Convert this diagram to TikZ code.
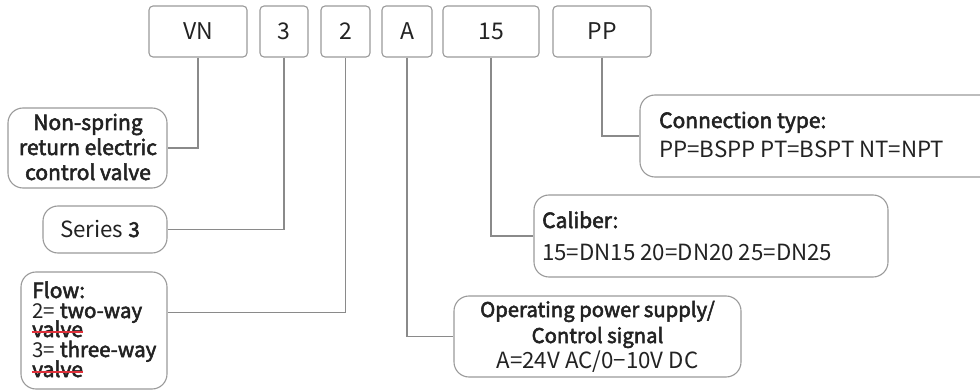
\documentclass[tikz,border=0pt]{standalone}
\usepackage{fontspec}
\setmainfont{Noto Sans CJK SC}
\newfontfamily\medfont[FakeBold=2.6]{Noto Sans CJK SC}
\usetikzlibrary{calc}
\definecolor{edge}{HTML}{9A9A9A}
\definecolor{wire}{HTML}{8A8A8A}
\definecolor{ink}{HTML}{222222}
\definecolor{squig}{HTML}{E0303A}
\tikzset{
  codebox/.style={draw=edge, line width=1.1pt, rounded corners=4pt, inner sep=0pt, text=ink, font=\fontsize{23}{24}\selectfont},
  labbox/.style={draw=edge, line width=1.1pt, rounded corners=15pt, inner sep=0pt},
  txt/.style={inner sep=0pt, text=ink, font=\fontsize{22.3}{23}\selectfont},
  hd/.style={inner sep=0pt, text=ink, font=\fontsize{21}{22}\selectfont\medfont},
  hdop/.style={hd, font=\fontsize{20.3}{21}\selectfont\medfont},
  wireline/.style={draw=wire, line width=1.3pt},
}
\newcommand{\hb}[1]{{\fontsize{20.5}{21}\selectfont\medfont #1}}
\begin{document}
\begin{tikzpicture}[x=1pt,y=-1pt]
\useasboundingbox (0,0) rectangle (980,390);
\clip (0,0) rectangle (980,390);
% code boxes
\node[codebox, minimum width=98pt, minimum height=51pt] (vn) at (198,31.5) {VN};
\node[codebox, minimum width=48pt, minimum height=51pt] (three) at (284,31.5) {3};
\node[codebox, minimum width=49pt, minimum height=51pt] (two) at (345.5,31.5) {2};
\node[codebox, minimum width=50pt, minimum height=51pt] (aa) at (407,31.5) {A};
\node[codebox, minimum width=96pt, minimum height=51pt] (fif) at (491,31.5) {15};
\node[codebox, minimum width=98pt, minimum height=51pt] (pp) at (602,31.5) {PP};
% label boxes
\node[labbox, minimum width=159pt, minimum height=80pt] (ns) at (87.5,148) {};
\node[labbox, minimum width=124pt, minimum height=47pt] (ser) at (105,229.5) {};
\node[labbox, minimum width=146pt, minimum height=117pt] (flow) at (94,330.5) {};
\node[labbox, minimum width=287pt, minimum height=81pt] (op) at (597.5,336.5) {};
\node[labbox, minimum width=354pt, minimum height=82pt] (cal) at (711,236) {};
\node[labbox, minimum width=370pt, minimum height=82pt] (conn) at (825,136) {};
% texts
\node[hd, anchor=base] (ns1) at (88,130) {Non-spring};
\node[hd, anchor=base] (ns2) at (88,155) {return electric};
\node[hd, anchor=base] (ns3) at (88,180) {control valve};
\node[txt, anchor=base west] (ser1) at (60,237) {Series \hb{3}};
\node[hd, anchor=base west] (fl1) at (32,298) {Flow:};
\node[txt, anchor=base west] (fl2) at (32,318) {{\fontsize{20.5}{21}\selectfont 2=} \hb{two-way}};
\node[hd, anchor=base west] (fl3) at (32,337) {valve};
\node[txt, anchor=base west] (fl4) at (32,357) {{\fontsize{20.5}{21}\selectfont 3=} \hb{three-way}};
\node[hd, anchor=base west] (fl5) at (32,377) {valve};
\draw[squig, line width=1.1pt] ([yshift=5pt]fl3.base west) -- ([yshift=5pt]fl3.base east);
\draw[squig, line width=1.1pt] ([yshift=5pt]fl5.base west) -- ([yshift=5pt]fl5.base east);
\node[hdop, anchor=base] (op1) at (597.5,317) {Operating power supply/};
\node[hdop, anchor=base] (op2) at (597.5,343) {Control signal};
\node[txt, anchor=base] (op3) at (597.5,368) {A=24V AC/0\textminus10V DC};
\node[hd, anchor=base west] (cal1) at (542,228) {Caliber:};
\node[txt, anchor=base west] (cal2) at (542,260) {15=DN15 20=DN20 25=DN25};
\node[hd, anchor=base west] (cn1) at (659,128) {Connection type:};
\node[txt, anchor=base west] (cn2) at (659,158) {PP=BSPP PT=BSPT NT=NPT};
% connectors
\draw[wireline] (vn.south) |- (ns.east);
\draw[wireline] (three.south) |- (ser.east);
\draw[wireline] (two.south) |- ($(flow.north east)!0.35!(flow.south east)$);
\draw[wireline] (aa.south) |- (op.west);
\draw[wireline] (fif.south) |- (cal.west);
\draw[wireline] (pp.south) |- (conn.west);
\end{tikzpicture}
\end{document}
